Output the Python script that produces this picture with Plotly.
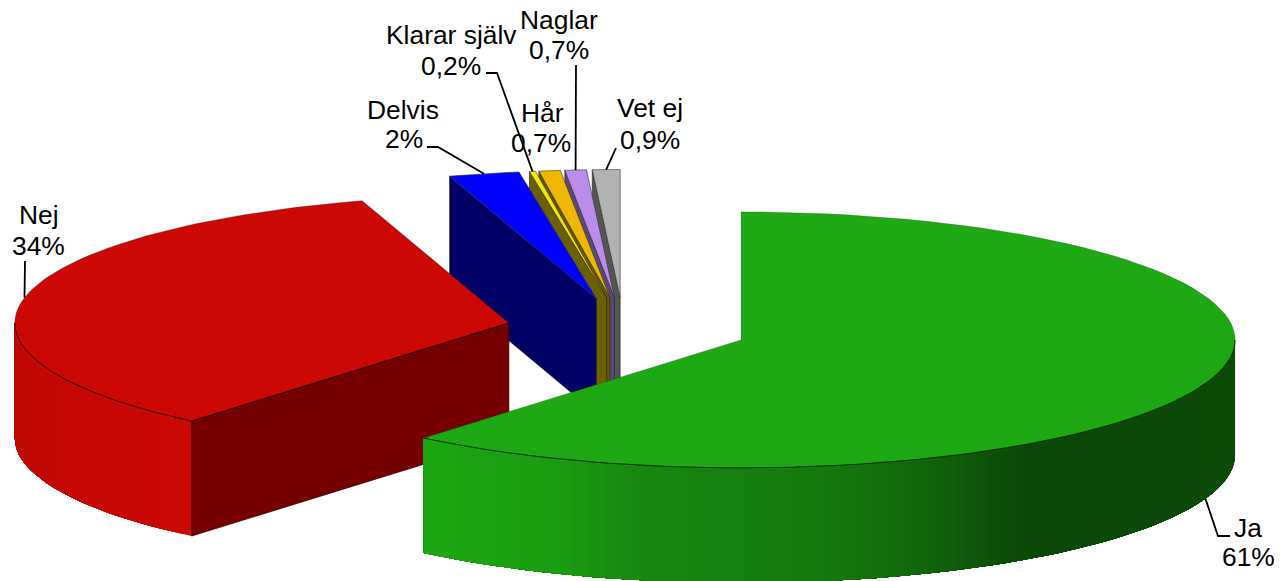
import math
import plotly.graph_objects as go

# ---- data ----
names = ["Ja", "Nej", "Delvis", "Klarar själv", "Hår", "Naglar", "Vet ej"]
values = [61.1, 34.1, 2.3, 0.2, 0.7, 0.7, 0.9]
value_labels = ["61%", "34%", "2%", "0,2%", "0,7%", "0,7%", "0,9%"]

# ---- pie styling and projection ----
CX, CY = 625.5, 329.0
RX, RY = 494.0, 128.0
DEPTH = 115.0
EXPLODE = [123, 119, 135, 135, 135, 135, 135]
SHIFT_X = [0, 0, 1.5, 1.5, 1.0, -0.5, -1.5]
SHIFT_Y = [0, 0, 3.5, 3.5, 3.5, 3.5, 3.5]
TOP = ["#1EA914", "#CB0804", "#0000FF", "#F2E800", "#EFB800", "#BB8CEA", "#B2B2B2"]
FACE = ["#0B4707", "#760000", "#000066", "#6B6000", "#6B5600", "#5A4878", "#555555"]
GREEN_STOPS = [(424, (29, 168, 19)), (560, (26, 156, 17)), (640, (22, 134, 15)),
               (800, (21, 125, 14)), (900, (18, 108, 12)), (960, (15, 90, 10)),
               (1030, (11, 71, 7)), (1235, (12, 74, 8))]
RED_STOPS = [(14, (190, 8, 4)), (60, (196, 8, 4)), (190, (203, 8, 4))]
FONT = "Liberation Sans"
FS = 26.4

total = sum(values)
spans = []
a = 0.0
for v in values:
    b = a + v / total * 360
    spans.append((a, b))
    a = b


def tip(i):
    m = math.radians(sum(spans[i]) / 2)
    x = CX + EXPLODE[i] * math.sin(m) + SHIFT_X[i]
    y = CY - EXPLODE[i] * RY / RX * math.cos(m) + SHIFT_Y[i]
    return (x, y)


def rim(i, deg, dz=0.0):
    t = tip(i)
    r = math.radians(deg)
    return (t[0] + RX * math.sin(r), t[1] - RY * math.cos(r) + dz)


def arc(i, a0, a1, dz=0.0, n=90):
    return [rim(i, a0 + (a1 - a0) * k / n, dz) for k in range(n + 1)]


def ramp(stops, x):
    if x <= stops[0][0]:
        return stops[0][1]
    for (x0, c0), (x1, c1) in zip(stops, stops[1:]):
        if x <= x1:
            f = (x - x0) / (x1 - x0)
            return tuple(round(p + (q - p) * f) for p, q in zip(c0, c1))
    return stops[-1][1]


fig = go.Figure()


def poly(pts, fill, line=None, width=0.8):
    xs = [p[0] for p in pts] + [pts[0][0]]
    ys = [p[1] for p in pts] + [pts[0][1]]
    fig.add_trace(go.Scatter(x=xs, y=ys, mode="lines", fill="toself", fillcolor=fill,
                             line=dict(color=line or fill, width=width),
                             hoverinfo="skip", showlegend=False))


def stroke(pts, color="#000000", width=0.8):
    fig.add_trace(go.Scatter(x=[p[0] for p in pts], y=[p[1] for p in pts], mode="lines",
                             line=dict(color=color, width=width),
                             hoverinfo="skip", showlegend=False))


def wall(i, a0, a1, stops, n):
    # painted back to front: each band runs to the far end so no seams appear
    for k in range(n):
        d0 = a0 + (a1 - a0) * k / n
        seg = arc(i, d0, a1, n=max(4, (n - k) // 2))
        c = ramp(stops, rim(i, d0 + (a1 - a0) / n / 2)[0])
        col = "rgb(%d,%d,%d)" % c
        poly(seg + [(q[0], q[1] + DEPTH) for q in reversed(seg)], col, "rgba(0,0,0,0)", 0)


# small slices, drawn right to left so each top hides its neighbour's face
for i in range(6, 1, -1):
    s, e = spans[i]
    t = tip(i)
    p = rim(i, s)
    poly([t, p, (p[0], p[1] + DEPTH), (t[0], t[1] + DEPTH)], FACE[i], "#222222", 0.6)
    poly([t] + arc(i, s, e, n=12), TOP[i], "#333333", 0.6)

# Nej
s, e = spans[1]
wall(1, s, 270, RED_STOPS, 40)
t = tip(1)
p = rim(1, s)
poly([t, p, (p[0], p[1] + DEPTH), (t[0], t[1] + DEPTH)], FACE[1], "#300000", 0.8)
poly([t] + arc(1, s, e), TOP[1], "rgba(60,0,0,0.45)", 0.7)
stroke(arc(1, s, 270), "#300000", 0.9)
stroke([p, t], "#200000", 0.9)

# Ja
s, e = spans[0]
wall(0, 90, e, GREEN_STOPS, 130)
t = tip(0)
poly([t] + arc(0, s, e), TOP[0], "rgba(0,50,0,0.35)", 0.7)
stroke(arc(0, 90, e), "#0a2a06", 0.9)

# leader elbows and text anchors (pixels in the picture)
leaders = {
    0: [(1230, 536), (1218, 536)],
    1: [(25, 261)],
    2: [(427, 147), (438, 147)],
    3: [(486, 73), (497, 73)],
    5: [(576, 65)],
    6: [(616, 148)],
}
for i, pts in leaders.items():
    m = sum(spans[i]) / 2
    end = rim(i, m, DEPTH if i == 0 else 0)
    path = pts + [end]
    fig.add_shape(type="path", xref="x", yref="y", layer="above",
                  path="M " + " L ".join(f"{x:.1f},{y:.1f}" for x, y in path),
                  line=dict(color="#000000", width=1.8), fillcolor="rgba(0,0,0,0)")

anchors = {
    0: ((1248, 528), (1248, 557)),
    1: ((39, 215), (38, 246)),
    2: ((403, 110), (404, 139)),
    3: ((451, 35), (451, 66)),
    4: ((542, 113), (541, 143)),
    5: ((559, 20), (559, 50)),
    6: ((650, 108), (650, 140)),
}
for i, (a1, a2) in anchors.items():
    for txt, (x, y) in ((names[i], a1), (value_labels[i], a2)):
        fig.add_annotation(x=x, y=y, xref="x", yref="y", text=txt, showarrow=False,
                           xanchor="center", yanchor="middle",
                           font=dict(family=FONT, size=FS, color="#000000"))

fig.update_layout(
    width=1280, height=581,
    margin=dict(l=0, r=0, t=0, b=0),
    paper_bgcolor="#ffffff", plot_bgcolor="#ffffff",
    showlegend=False,
    xaxis=dict(range=[0, 1280], visible=False, fixedrange=True),
    yaxis=dict(range=[581, 0], visible=False, fixedrange=True),
)
fig.write_html("out.html", config={"displayModeBar": False},
               post_script="document.body.style.margin='0';")
